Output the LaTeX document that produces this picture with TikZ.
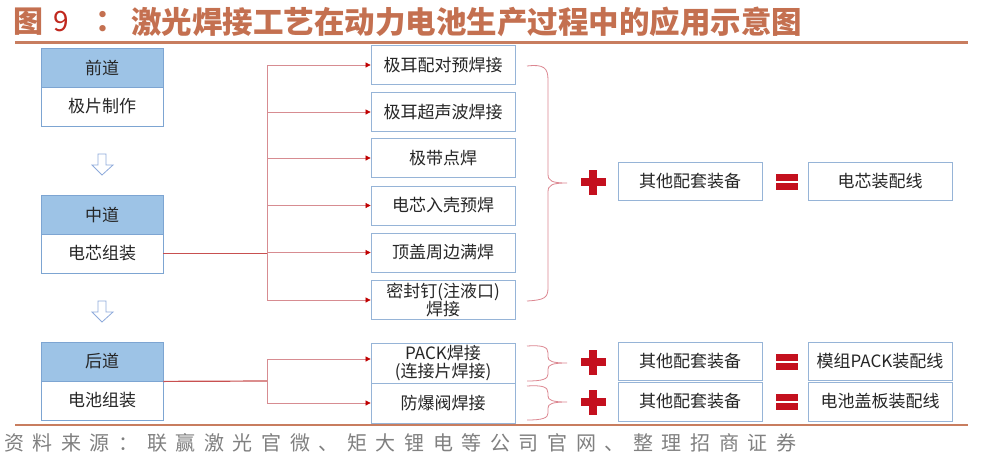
\documentclass[tikz,border=0pt]{standalone}
\usepackage{fontspec}
\setmainfont{Noto Sans CJK SC}
\newfontfamily\cjk{Noto Sans CJK SC}
\newfontfamily\footfont[LetterSpace=43]{Noto Sans CJK SC}
\usetikzlibrary{arrows.meta}
\definecolor{titlecol}{RGB}{196,112,80}
\definecolor{ninecol}{RGB}{192,40,30}
\definecolor{rulecol}{RGB}{200,125,95}
\definecolor{hdrblue}{RGB}{157,195,230}
\definecolor{boxblue}{RGB}{125,165,210}
\definecolor{boxblue2}{RGB}{150,180,215}
\definecolor{txt}{RGB}{38,38,38}
\definecolor{mainred}{RGB}{200,80,80}
\definecolor{branchred}{RGB}{215,140,145}
\definecolor{tipred}{RGB}{192,0,0}
\definecolor{bracecol}{RGB}{220,135,145}
\definecolor{plusred}{RGB}{196,16,30}
\definecolor{arrowblue}{RGB}{142,170,219}
\definecolor{footgray}{RGB}{128,128,128}
\newcommand\boxfont{\cjk\fontsize{17}{19}\selectfont}
\tikzset{
  hdr/.style={draw=boxblue, line width=0.8pt, fill=hdrblue, minimum width=122pt, minimum height=39pt, inner sep=0pt, font=\boxfont, text=txt},
  bodyb/.style={draw=boxblue, line width=0.8pt, fill=white, minimum width=122pt, minimum height=39pt, inner sep=0pt, font=\boxfont, text=txt},
  mbox/.style={draw=boxblue2, line width=0.8pt, fill=white, minimum width=144pt, minimum height=39pt, inner sep=0pt, align=center, font=\boxfont, text=txt},
  mainline/.style={draw=mainred, line width=1.2pt},
  branch/.style={draw=branchred, line width=0.7pt, -{Triangle[length=5pt,width=5pt,color=tipred]}},
  bracel/.style={draw=bracecol, line width=0.8pt},
  redplus/.pic={\fill[plusred] (-12.5,-4) rectangle (12.5,4); \fill[plusred] (-4,-12.5) rectangle (4,12.5);},
  redeq/.pic={\fill[plusred] (-11,-8) rectangle (11,-1); \fill[plusred] (-11,1) rectangle (11,8);},
  hollowdown/.pic={\draw[arrowblue, line width=0.8pt, fill=white] (-4,-10.5) -- (4,-10.5) -- (4,0.5) -- (11,0.5) -- (0,10.5) -- (-10,0.5) -- (-4,0.5) -- cycle;}
}
\begin{document}
\begin{tikzpicture}[x=1pt,y=-1pt]
\useasboundingbox (0,0) rectangle (988,464);
\fill[white] (0,0) rectangle (988,464);
% title
\node[anchor=center, text=titlecol, font=\cjk\bfseries\fontsize{30}{30}\selectfont, inner sep=0] (t1) at (28,22) {图};
\node[anchor=center, text=ninecol, font=\cjk\fontsize{28}{28}\selectfont, inner sep=0] (t2) at (61,22) {9};
\node[anchor=center, text=titlecol, font=\cjk\bfseries\fontsize{30}{30}\selectfont, inner sep=0] (t3) at (110,22) {：};
\node[anchor=west, text=titlecol, font=\cjk\bfseries\fontsize{30.5}{30}\selectfont, inner sep=0] (t4) at (131,22) {激光焊接工艺在动力电池生产过程中的应用示意图};
\draw[rulecol, line width=3pt] (15,42.5) -- (968,42.5);
% left column
\node[hdr] (qh) at (102,67.5) {前道};
\node[bodyb] (qb) at (102,106.5) {极片制作};
\node[hdr] (zh) at (102,214.5) {中道};
\node[bodyb] (zb) at (102,253.5) {电芯组装};
\node[hdr] (hh) at (102,361.5) {后道};
\node[bodyb] (hb) at (102,400.5) {电池组装};
\pic at (102,164.5) {hollowdown};
\pic at (102,311.5) {hollowdown};
% middle boxes
\node[mbox] (m1) at (443,65) {极耳配对预焊接};
\node[mbox] (m2) at (443,112) {极耳超声波焊接};
\node[mbox] (m3) at (443,158) {极带点焊};
\node[mbox] (m4) at (443,205.5) {电芯入壳预焊};
\node[mbox] (m5) at (443,252.5) {顶盖周边满焊};
\node[mbox] (m6) at (443,300) {密封钉(注液口)\\[-1pt]焊接};
\node[mbox, minimum height=40pt] (p1) at (443,363) {PACK焊接\\[-1pt](连接片焊接)};
\node[mbox, minimum height=40pt] (p2) at (443,403) {防爆阀焊接};
% connectors
\coordinate (j1) at (267,253.5);
\coordinate (j2) at (267,381);
\draw[mainline] (zb.east) -- (j1);
\foreach \m in {m1,m2,m3,m4,m5,m6} { \draw[branch] (j1) |- (\m.west); }
\draw[mainline] (hh.south east) -- (j2);
\draw[branch] (j2) |- ([yshift=4pt]p1.west);
\draw[branch] (j2) |- (p2.west);
% braces
\draw[bracel] (527,66) .. controls (544,64) and (548,68) .. (548,80) -- (548,174) .. controls (548,181) and (552,183) .. (567,183)
  .. controls (552,183) and (548,185) .. (548,192) -- (548,288) .. controls (548,298) and (544,300) .. (527,301);
\draw[bracel] (527,346) .. controls (543,345) and (548,347) .. (548,353) -- (548,357) .. controls (548,361) and (552,363) .. (567,363)
  .. controls (552,363) and (548,365) .. (548,369) -- (548,374) .. controls (548,379) and (543,381) .. (527,381);
\draw[bracel] (527,386) .. controls (543,385) and (548,387) .. (548,393) -- (548,396) .. controls (548,400) and (552,402) .. (567,402)
  .. controls (552,402) and (548,404) .. (548,408) -- (548,413) .. controls (548,418) and (543,420) .. (527,420);
% plus, boxes, equals
\pic at (593,182) {redplus};
\pic at (593,362) {redplus};
\pic at (593,402) {redplus};
\node[mbox, minimum height=38pt] (o1) at (690,181) {其他配套装备};
\node[mbox, minimum height=38pt] (o2) at (690,361) {其他配套装备};
\node[mbox, minimum height=39pt] (o3) at (690,401.5) {其他配套装备};
\pic at (787,182) {redeq};
\pic at (787,362) {redeq};
\pic at (787,402) {redeq};
\node[mbox, minimum height=38pt] (r1) at (880,181) {电芯装配线};
\node[mbox, minimum height=38pt] (r2) at (880,361) {模组PACK装配线};
\node[mbox, minimum height=39pt] (r3) at (880,401.5) {电池盖板装配线};
% bottom rule and source
\draw[rulecol, line width=2.5pt] (15,425) -- (968,425);
\node[anchor=west, text=footgray, font=\footfont\fontsize{20}{20}\selectfont, inner sep=0] (src) at (4,443) {资料来源：联赢激光官微、矩大锂电等公司官网、整理招商证券};
\end{tikzpicture}
\end{document}
